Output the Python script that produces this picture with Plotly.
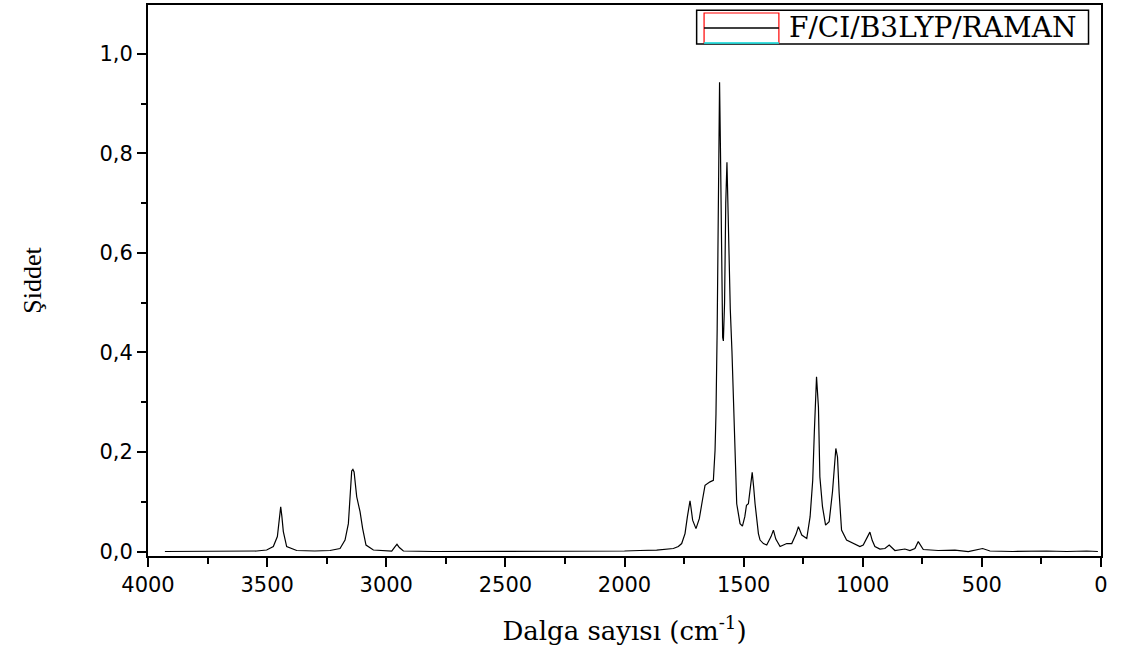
import plotly.graph_objects as go

# Computed Raman spectrum (B3LYP), wavenumber in cm-1 and relative intensity
wavenumber = [
    3929, 3700, 3544, 3502, 3474, 3457, 3448, 3443, 3438, 3432, 3418, 3376,
    3300, 3236, 3194, 3173, 3159, 3152, 3145, 3140, 3135, 3124, 3110, 3099,
    3085, 3054, 2977, 2963, 2955, 2945, 2928, 2800, 2500, 2200, 2000, 1936,
    1865, 1795, 1774, 1760, 1746, 1736, 1728, 1725, 1720, 1714, 1700, 1686,
    1673, 1662, 1641, 1627, 1620, 1616, 1611, 1606, 1601, 1597, 1592, 1588,
    1585, 1580, 1575, 1570, 1565, 1560, 1556, 1549, 1543, 1536, 1529, 1515,
    1505, 1495, 1488, 1480, 1470, 1464, 1458, 1452, 1438, 1431, 1417, 1403,
    1385, 1375, 1365, 1347, 1319, 1298, 1280, 1270, 1256, 1235, 1221, 1210,
    1203, 1194, 1186, 1180, 1169, 1156, 1141, 1127, 1113, 1106, 1099, 1089,
    1068, 1054, 1026, 1012, 998, 980, 970, 960, 949, 928, 907, 889, 865,
    823, 802, 781, 767, 746, 683, 613, 557, 497, 466, 370, 228, 144, 102,
    60, 13,
]
intensity = [
    0.000, 0.000, 0.001, 0.003, 0.010, 0.030, 0.065, 0.090, 0.070, 0.040, 0.010, 0.002,
    0.001, 0.002, 0.006, 0.023, 0.056, 0.110, 0.162, 0.165, 0.160, 0.110, 0.080, 0.046,
    0.013, 0.003, 0.001, 0.010, 0.0145, 0.008, 0.001, 0.000, 0.000, 0.000, 0.001, 0.002,
    0.003, 0.006, 0.010, 0.016, 0.036, 0.070, 0.098, 0.102, 0.085, 0.063, 0.046, 0.066,
    0.103, 0.133, 0.140, 0.143, 0.203, 0.277, 0.447, 0.790, 0.943, 0.800, 0.550, 0.430,
    0.423, 0.500, 0.700, 0.782, 0.678, 0.560, 0.487, 0.403, 0.303, 0.183, 0.096, 0.056,
    0.051, 0.070, 0.093, 0.096, 0.130, 0.159, 0.130, 0.096, 0.036, 0.023, 0.016, 0.013,
    0.030, 0.043, 0.025, 0.010, 0.016, 0.016, 0.035, 0.050, 0.033, 0.026, 0.070, 0.143,
    0.243, 0.351, 0.290, 0.150, 0.090, 0.053, 0.060, 0.120, 0.207, 0.190, 0.117, 0.043,
    0.023, 0.020, 0.013, 0.010, 0.013, 0.028, 0.039, 0.022, 0.010, 0.005, 0.006, 0.013, 0.002,
    0.005, 0.002, 0.006, 0.020, 0.004, 0.002, 0.003, 0.000, 0.006, 0.001, 0.000, 0.001, 0.000, 0.001,
    0.001, 0.000,
]

x_ticks = [4000, 3500, 3000, 2500, 2000, 1500, 1000, 500, 0]
y_ticks = [0.0, 0.2, 0.4, 0.6, 0.8, 1.0]
series_name = "F/CI/B3LYP/RAMAN"

fig = go.Figure()
fig.add_trace(go.Scatter(
    x=wavenumber, y=intensity, mode="lines", name=series_name,
    line=dict(color="black", width=1.2), showlegend=False,
))

axis_common = dict(
    showline=True, linecolor="black", linewidth=2, mirror=True,
    ticks="outside", tickcolor="black", tickwidth=2, ticklen=9,
    showgrid=False, zeroline=False,
    tickfont=dict(family="DejaVu Sans", size=21, color="black"),
)

fig.update_xaxes(
    **axis_common,
    range=[4000, 0], tickvals=x_ticks, tickformat="d",
    minor=dict(ticks="outside", ticklen=6, tickwidth=2, tickcolor="black",
               dtick=250, tick0=0),
    title=dict(text="Dalga sayısı (cm<sup>-1</sup>)", standoff=26,
               font=dict(family="DejaVu Serif", size=26, color="black")),
)
fig.update_yaxes(
    **axis_common,
    range=[-0.009, 1.098], tickvals=y_ticks, tickformat=".1f",
    minor=dict(ticks="outside", ticklen=5, tickwidth=2, tickcolor="black",
               dtick=0.1, tick0=0),
    title=dict(text="Şiddet", standoff=50,
               font=dict(family="Liberation Serif", size=26, color="black")),
)

# Legend box drawn in paper coordinates (top-right corner of the plot)
shapes = [
    dict(type="rect", xref="paper", yref="paper", x0=0.5757, x1=0.9869, y0=0.9291, y1=0.9903,
         line=dict(color="black", width=1.5), fillcolor="white", layer="above"),
    dict(type="rect", xref="paper", yref="paper", x0=0.5835, x1=0.6620, y0=0.9310, y1=0.9855,
         line=dict(color="red", width=1.2), fillcolor="rgba(0,0,0,0)", layer="above"),
    dict(type="line", xref="paper", yref="paper", x0=0.5835, x1=0.6620, y0=0.9584, y1=0.9584,
         line=dict(color="black", width=1.5), layer="above"),
    dict(type="line", xref="paper", yref="paper", x0=0.5835, x1=0.6620, y0=0.9310, y1=0.9310,
         line=dict(color="cyan", width=1.5), layer="above"),
]
annotations = [
    dict(text=series_name, xref="paper", yref="paper", x=0.6700, y=0.9590,
         xanchor="left", yanchor="middle", showarrow=False,
         font=dict(family="DejaVu Serif", size=28, color="black")),
]

fig.update_layout(
    width=1128, height=649,
    margin=dict(l=148, r=27, t=3, b=93),
    paper_bgcolor="white", plot_bgcolor="white",
    separators=",.",
    shapes=shapes, annotations=annotations,
)

fig.write_html("out.html")
